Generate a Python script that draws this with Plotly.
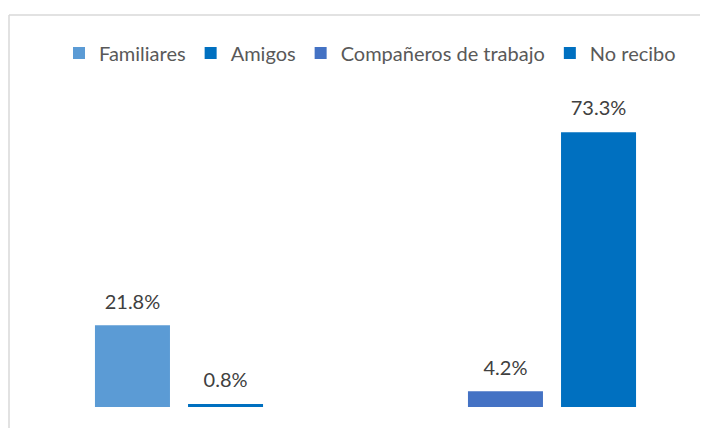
import plotly.graph_objects as go

# series data
series_names = ['Familiares', 'Amigos', 'Compañeros de trabajo', 'No recibo']
series_group = ['A', 'A', 'B', 'B']      # which cluster each bar sits in
series_slot = ['a', 'b', 'a', 'b']       # slot inside the cluster
series_values = [21.8, 0.8, 4.2, 73.3]
series_colors = ['#5B9BD5', '#0070C0', '#4472C4', '#0070C0']
categories = ['A', 'B']

# page has an 8px body margin, so the figure is drawn 8px smaller
W, H = 700, 420
T, B = 99, 21  # plot area top / bottom margins (px)

fig = go.Figure()
for name, grp, slot, val, col in zip(series_names, series_group, series_slot, series_values, series_colors):
    fig.add_trace(go.Bar(
        x=[grp], y=[val], name=name, offsetgroup=slot,
        marker=dict(color=col, line=dict(width=0)),
        text=[val],
        texttemplate="<span style='font-size:20px'>%{y:.1f}%</span><br> ",
        textposition='outside', cliponaxis=False,
        textfont=dict(family='Lato', size=9, color='#404040'),
    ))

# chart frame (light grey border, top and left visible)
def px_x(p):
    return p / W
def px_y(p):
    return (H - B - p) / (H - T - B)

fig.add_shape(type='line', xref='paper', yref='paper', x0=px_x(1), x1=px_x(W), y0=px_y(7), y1=px_y(7),
              line=dict(color='#D9D9D9', width=1.5))
fig.add_shape(type='line', xref='paper', yref='paper', x0=px_x(1), x1=px_x(1), y0=px_y(7), y1=px_y(H),
              line=dict(color='#D9D9D9', width=1.5))

fig.update_layout(
    width=W, height=H,
    margin=dict(l=0, r=0, t=T, b=B),
    paper_bgcolor='white', plot_bgcolor='white',
    barmode='group', bargap=0.501, bargroupgap=0.194,
    font=dict(family='Lato', color='#595959'),
    showlegend=True,
    legend=dict(orientation='h', x=px_x(362), xanchor='center', y=px_y(45), yanchor='middle',
                font=dict(family='Lato', size=20, color='#595959'),
                traceorder='normal', itemwidth=30),
)
fig.update_xaxes(type='category', categoryorder='array', categoryarray=categories,
                 range=[-171 / 373, (W - 171) / 373], showticklabels=False,
                 showgrid=False, zeroline=False, showline=False, ticks='')
fig.update_yaxes(range=[0, 80], showticklabels=False, showgrid=False, zeroline=False,
                 showline=False, ticks='')

fig.write_html("out.html")
